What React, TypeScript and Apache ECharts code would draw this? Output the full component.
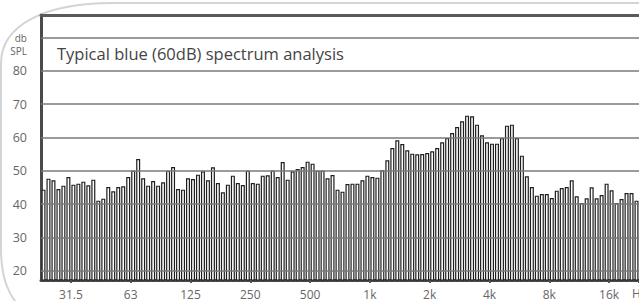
import React, { useEffect, useRef } from "react";
import * as echarts from "echarts";

const chartTitle = "Typical blue (60dB) spectrum analysis";
const yUnitLines = ["db", "SPL"];
const xUnit = "Hz";

// 1/12-octave band levels (dB SPL)
const levels = [
  44.3, 47.6, 47.1, 44.5, 45.5, 48.1, 45.8, 46.1, 46.7, 45.6, 47.3, 41.0,
  41.6, 45.1, 43.8, 45.1, 45.3, 48.1, 50.0, 53.5, 47.7, 45.5, 46.9, 45.5,
  46.5, 50.0, 51.1, 44.5, 44.3, 47.7, 47.5, 48.8, 49.8, 47.1, 51.0, 46.3,
  43.5, 45.8, 48.5, 46.3, 45.7, 50.0, 46.3, 46.1, 48.5, 48.6, 50.0, 48.1,
  52.6, 47.3, 49.8, 50.5, 51.1, 52.7, 52.1, 50.0, 50.0, 47.7, 48.7, 44.3,
  43.7, 46.0, 46.1, 46.1, 47.1, 48.5, 48.1, 47.9, 50.1, 53.1, 56.8, 59.1,
  58.0, 56.1, 55.1, 54.9, 55.0, 55.3, 55.8, 56.8, 58.5, 59.8, 61.3, 63.1,
  64.8, 66.5, 66.3, 63.8, 60.6, 58.5, 58.1, 58.1, 59.8, 63.5, 63.8, 59.8,
  54.5, 48.3, 45.1, 42.5, 43.0, 43.0, 41.8, 44.0, 44.8, 45.1, 47.1, 42.3,
  40.3, 41.7, 45.0, 41.7, 42.7, 46.1, 44.1, 40.3, 41.5, 43.3, 43.3, 41.0,
];

const tickLabels = ["31.5", "63", "125", "250", "500", "1k", "2k", "4k", "8k", "16k"];
const tickBands = [6, 18, 30, 42, 54, 66, 78, 90, 102, 114];
const gridValues = [20, 30, 40, 50, 60, 70, 80, 90];
const labelledGridValues = [20, 30, 40, 50, 60, 70, 80];

const FONT = "'Open Sans', 'DejaVu Sans', sans-serif";

export default function App() {
  const ref = useRef<HTMLDivElement>(null);
  useEffect(() => {
    const el = ref.current;
    if (!el) return;
    const framePath =
      "M 700 3 L 112 3 C 45 3 2 25 1 62 L 1 250 C 1 285 12 305 40 325";
    echarts.graphic.registerShape("frame", echarts.graphic.extendPath(framePath, {}));
    const chart = echarts.init(el, null, { renderer: "svg" });
    const categories = levels.map((_, i) => String(i));
    const labelAt = (i: number) => {
      const k = tickBands.indexOf(i);
      return k >= 0 ? tickLabels[k] : "";
    };
    chart.setOption({
      animation: false,
      textStyle: { fontFamily: FONT },
      grid: { left: 41, top: 15, right: -2, bottom: 21, show: false },
      xAxis: [
        {
          type: "category",
          data: categories,
          position: "bottom",
          axisLine: { onZero: false, lineStyle: { color: "#4a4a4a", width: 3 } },
          axisTick: {
            show: true,
            length: 3,
            interval: (i: number) => tickBands.includes(i),
            lineStyle: { color: "#555", width: 2 },
          },
          axisLabel: {
            interval: (i: number) => tickBands.includes(i),
            formatter: (_v: string, i: number) => labelAt(i),
            color: "#666",
            fontSize: 12,
            fontFamily: FONT,
            margin: 8,
            padding: [0, 5, 0, 0],
          },
          splitLine: { show: false },
        },
        {
          type: "category",
          data: categories,
          position: "top",
          axisLine: { onZero: false, lineStyle: { color: "#5a5a5a", width: 3 } },
          axisTick: { show: false },
          axisLabel: { show: false },
          splitLine: { show: false },
        },
      ],
      yAxis: {
        type: "value",
        min: 17.2,
        max: 96.7,
        axisLine: { show: true, lineStyle: { color: "#4a4a4a", width: 3 } },
        axisTick: { show: false },
        axisLabel: { show: false },
        splitLine: { show: false },
      },
      series: [
        {
          type: "bar",
          data: levels,
          barWidth: 4,
          itemStyle: { color: "#ffffff", borderColor: "#1e1e1e", borderWidth: 1.2 },
          emphasis: { disabled: true },
          markLine: {
            silent: true,
            symbol: "none",
            animation: false,
            emphasis: { disabled: true },
            lineStyle: { color: "#7a7a7a", width: 1.6, type: "solid" },
            label: {
              position: "start",
              distance: 14,
              color: "#666",
              fontSize: 12.5,
              fontFamily: FONT,
              formatter: (p: any) => String(p.value),
            },
            data: gridValues.map((v) => ({
              yAxis: v,
              label: { show: labelledGridValues.includes(v) },
            })),
          },
        },
      ],
      graphic: [
        {
          type: "frame",
          x: 0,
          y: 0,
          z: -10,
          silent: true,
          style: { fill: "none", stroke: "#d4d4d4", lineWidth: 2 },
        },
        {
          type: "text",
          x: 57,
          y: 45,
          style: { text: chartTitle, font: `16.5px ${FONT}`, fill: "#444", verticalAlign: "top" },
        },
        ...yUnitLines.map((t, i) => ({
          type: "text",
          x: 27,
          y: 38 + i * 12.5,
          style: {
            text: t,
            font: `10px ${FONT}`,
            fill: "#666",
            align: "right",
            verticalAlign: "middle",
          },
        })),
        {
          type: "text",
          x: 632,
          y: 287,
          style: { text: xUnit, font: `12px ${FONT}`, fill: "#666", verticalAlign: "top" },
        },
      ],
    });
    return () => chart.dispose();
  }, []);
  return (
    <div style={{ position: "absolute", left: 0, top: 0, width: 639, height: 301, overflow: "hidden" }}>
      <div ref={ref} style={{ width: 639, height: 301 }} />
    </div>
  );
}
